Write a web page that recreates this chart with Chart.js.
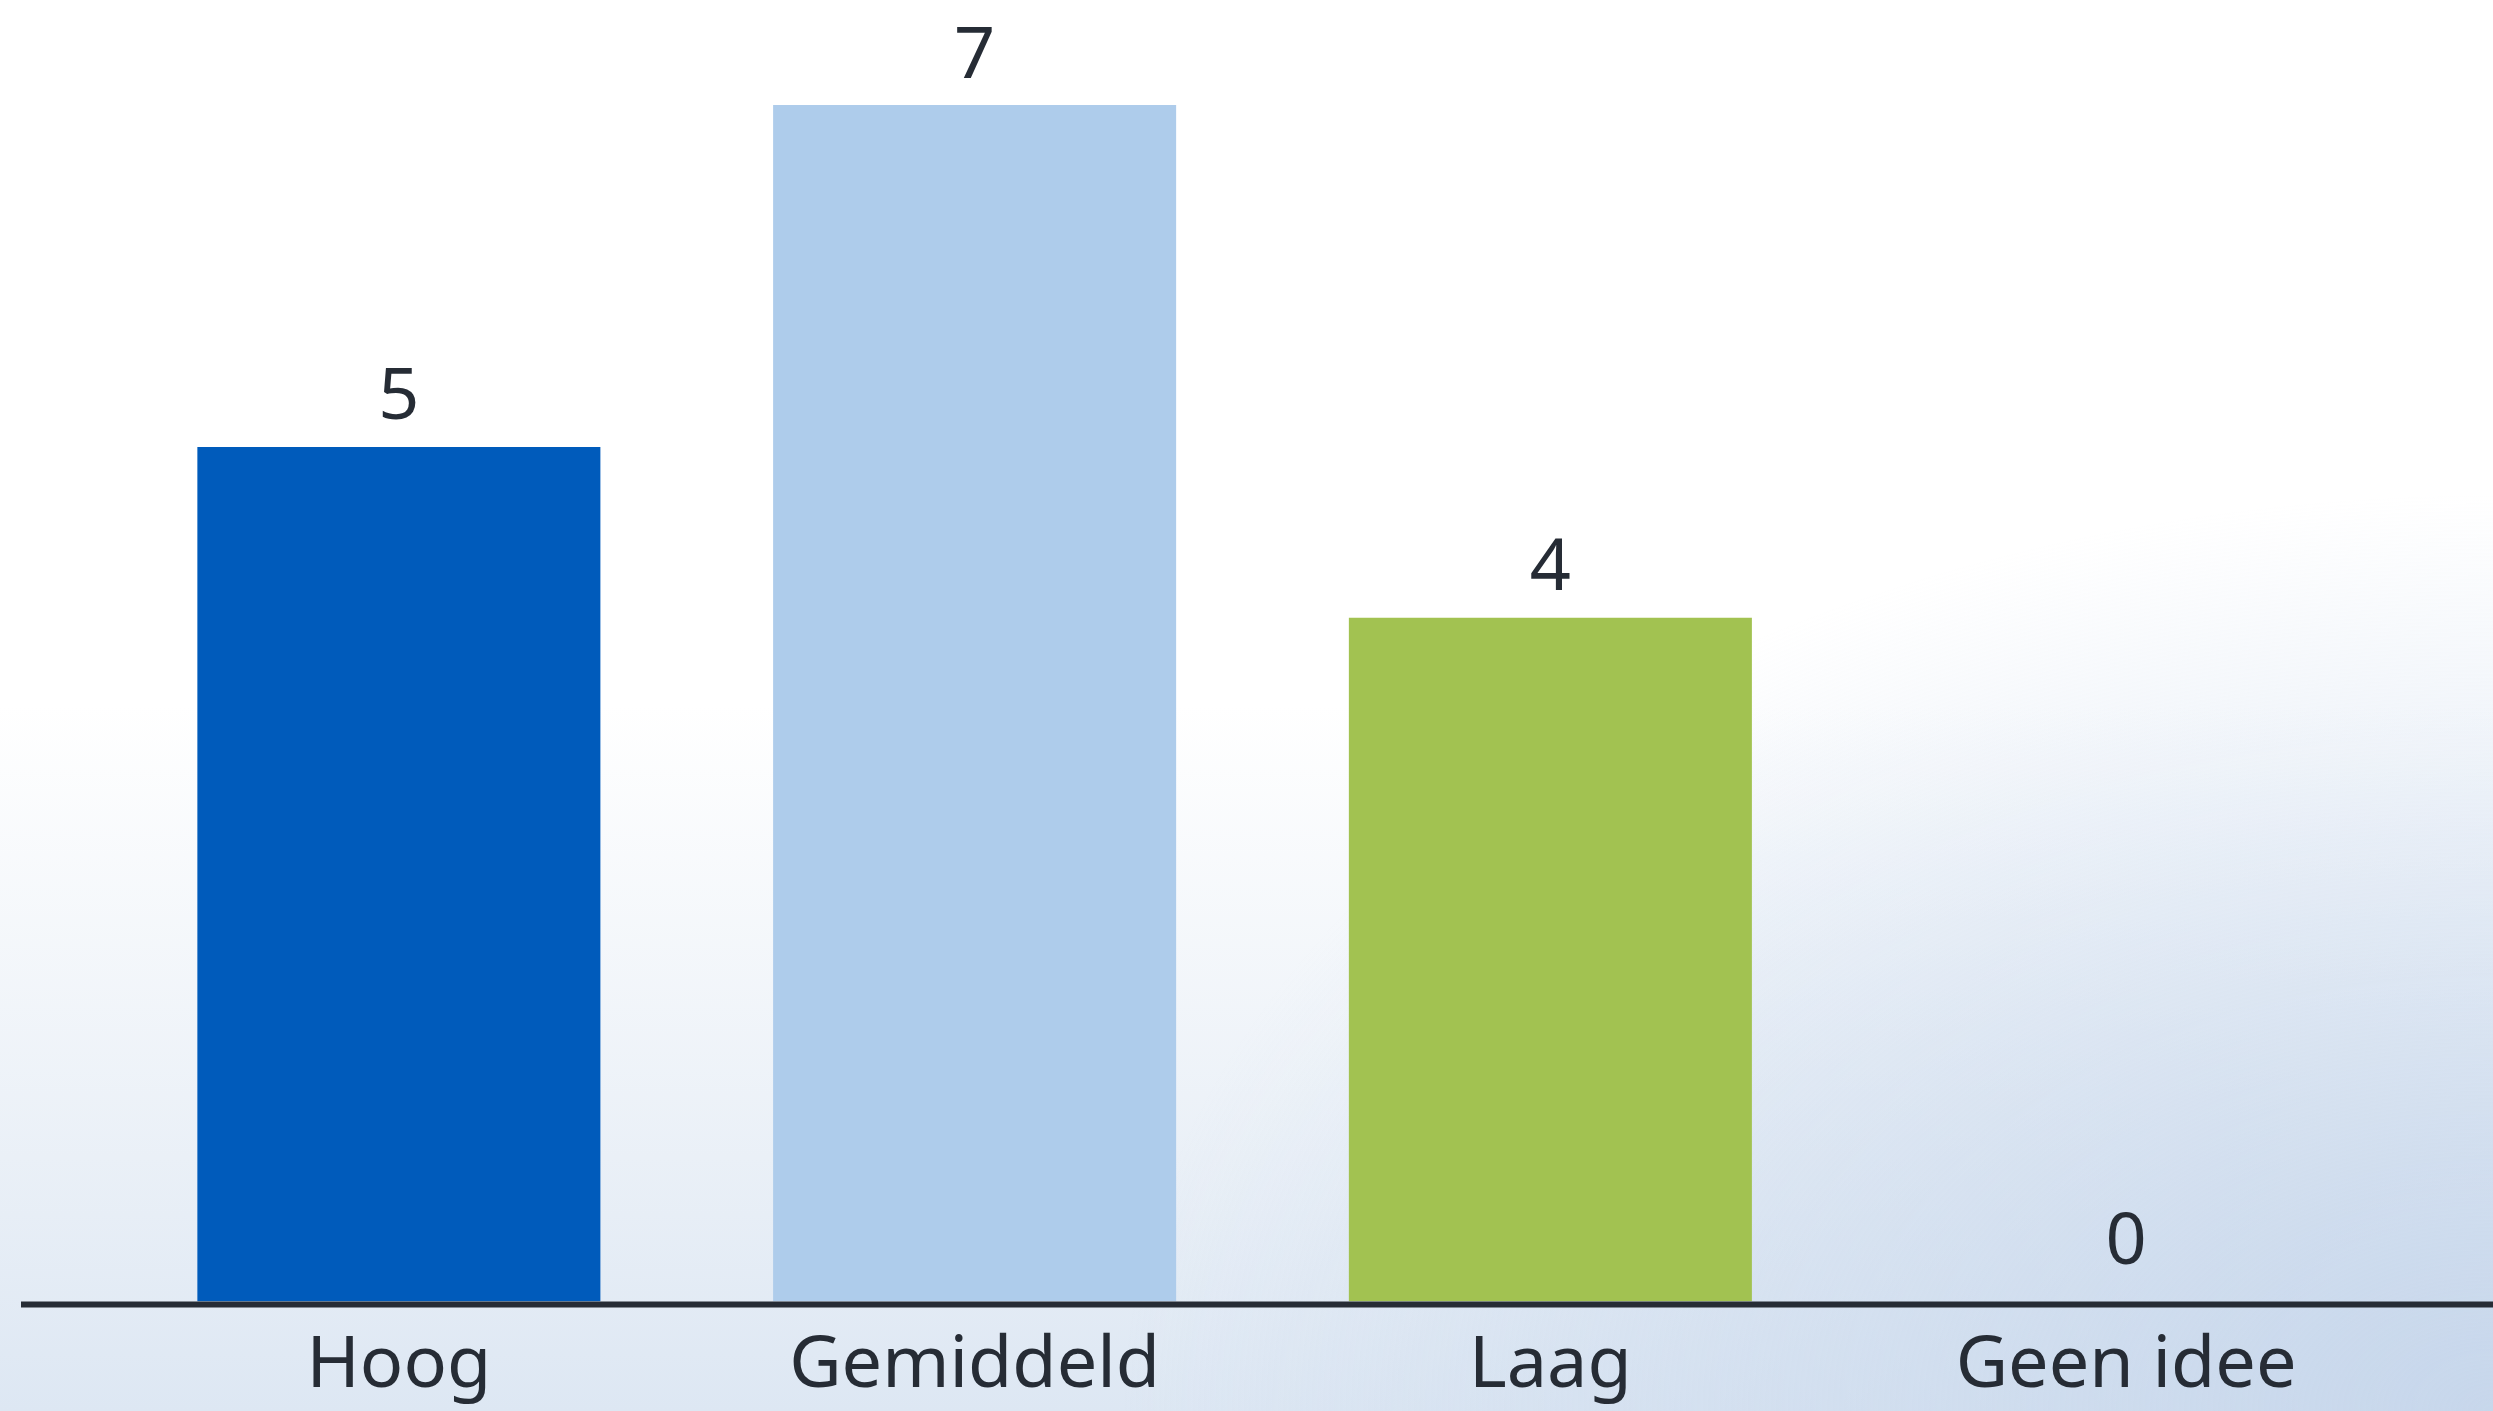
<!DOCTYPE html>
<html>
<head>
<meta charset="utf-8">
<script src="https://cdn.jsdelivr.net/npm/chart.js@4/dist/chart.umd.min.js"></script>
<style>
  html, body { margin: 0; padding: 0; }
  body {
    width: 2493px; height: 1411px; overflow: hidden;
    background:
      radial-gradient(ellipse 55% 65% at 100% 100%, rgba(198,214,235,0.95), rgba(198,214,235,0) 100%),
      linear-gradient(180deg, #ffffff 0%, #ffffff 50%, #eaf0f7 82%, #dde7f3 100%);
  }
  #wrap { position: absolute; left: 0; top: 0; width: 2493px; height: 1432px; }
</style>
</head>
<body>
<div id="wrap"><canvas id="myChart"></canvas></div>
<script>
var categories = ["Hoog", "Gemiddeld", "Laag", "Geen idee"];
var values = [5, 7, 4, 0];
var barColors = ["#005bbb", "#aecceb", "#a2c251", "#a2c251"];

var textColor = "#262c35";

// value above each bar + long baseline
var extras = {
  id: "extras",
  afterDatasetsDraw: function(chart) {
    var ctx = chart.ctx;
    var meta = chart.getDatasetMeta(0);
    var y0 = chart.scales.y.getPixelForValue(0);
    ctx.save();
    ctx.strokeStyle = "#262c35";
    ctx.lineWidth = 6;
    ctx.beginPath();
    ctx.moveTo(21, y0 + 3);
    ctx.lineTo(chart.width, y0 + 3);
    ctx.stroke();
    ctx.fillStyle = textColor;
    ctx.font = "72px 'Noto Sans'";
    ctx.textAlign = "center";
    ctx.textBaseline = "bottom";
    meta.data.forEach(function(bar, i) {
      var off = values[i] === 0 ? 22 : 12;
      ctx.fillText(String(values[i]), bar.x, bar.y - off);
    });
    ctx.restore();
  }
};

var ctx = document.getElementById("myChart");
var myChart = new Chart(ctx, {
  type: "bar",
  data: {
    labels: categories,
    datasets: [{
      data: values,
      backgroundColor: barColors,
      borderWidth: 0,
      categoryPercentage: 1,
      barPercentage: 0.7
    }]
  },
  options: {
    responsive: true,
    maintainAspectRatio: false,
    animation: false,
    layout: { padding: { left: 111, right: 79, top: 105, bottom: 0 } },
    plugins: { legend: { display: false }, tooltip: { enabled: false } },
    scales: {
      y: { display: false, min: 0, max: 7 },
      x: {
        grid: { display: false, drawTicks: false },
        border: { display: false },
        ticks: {
          color: textColor,
          padding: 22,
          font: { family: "'Noto Sans'", size: 72 }
        }
      }
    }
  },
  plugins: [extras]
});
</script>
</body>
</html>
